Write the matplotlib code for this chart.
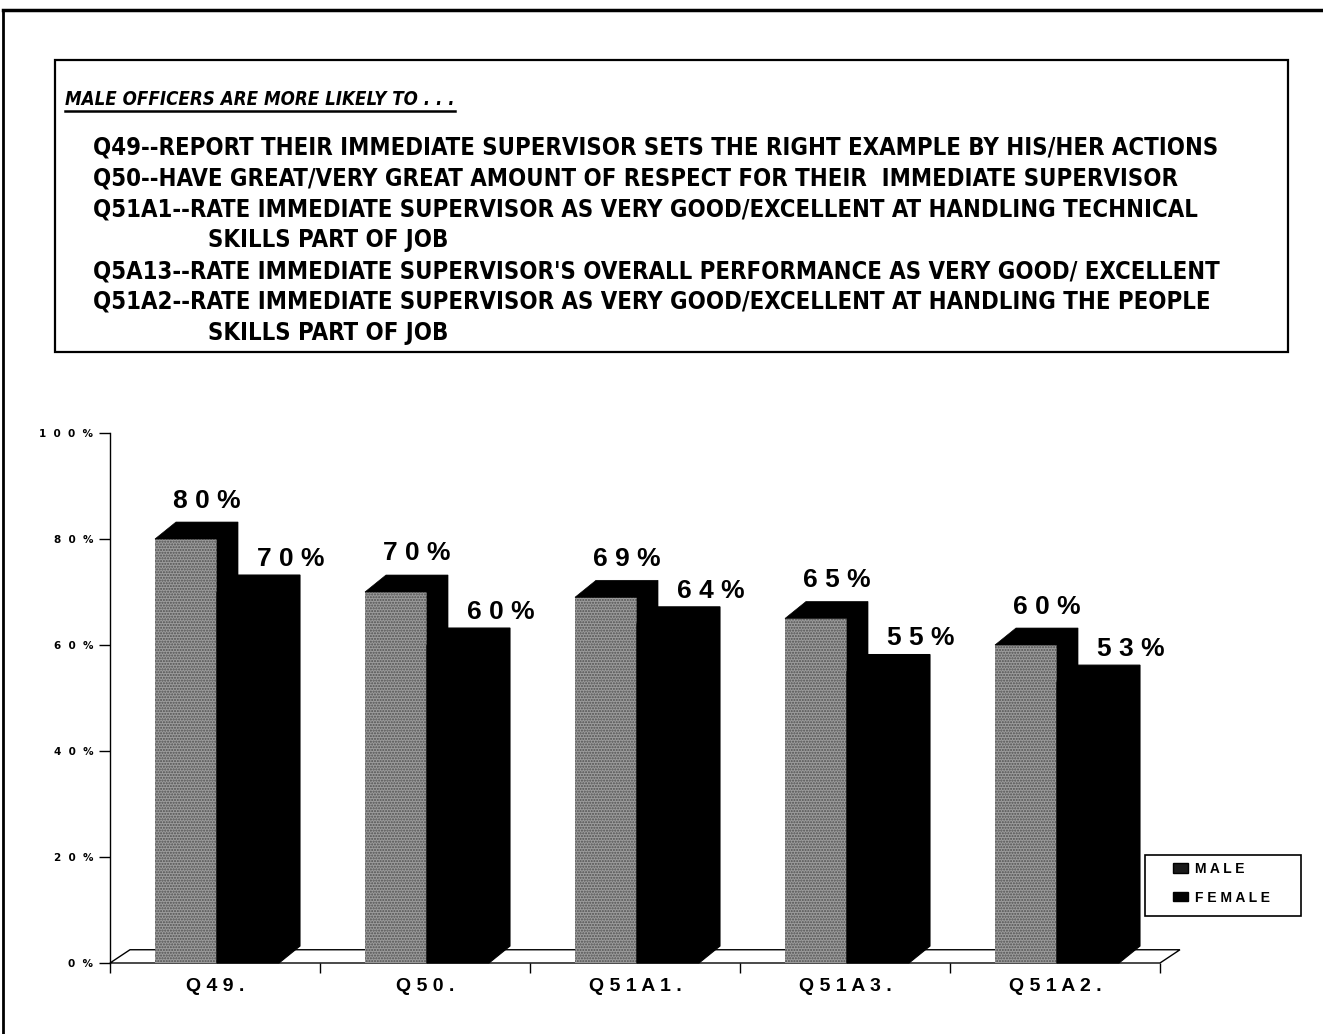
import numpy as np
import matplotlib
matplotlib.use('Agg')
import matplotlib.pyplot as plt
from matplotlib import font_manager as fm
from matplotlib.patches import Rectangle, Polygon, Patch
from matplotlib.lines import Line2D

# data
categories = ['Q49.', 'Q50.', 'Q51A1.', 'Q51A3.', 'Q51A2.']
male = [80, 70, 69, 65, 60]
female = [70, 60, 64, 55, 53]
series = ['MALE', 'FEMALE']
yticks = [0, 20, 40, 60, 80, 100]

title = 'MALE OFFICERS ARE MORE LIKELY TO . . .'
notes = [
    ('Q49--REPORT THEIR IMMEDIATE SUPERVISOR SETS THE RIGHT EXAMPLE BY HIS/HER ACTIONS', 0),
    ('Q50--HAVE GREAT/VERY GREAT AMOUNT OF RESPECT FOR THEIR  IMMEDIATE SUPERVISOR', 0),
    ('Q51A1--RATE IMMEDIATE SUPERVISOR AS VERY GOOD/EXCELLENT AT HANDLING TECHNICAL', 0),
    ('SKILLS PART OF JOB', 1),
    ("Q5A13--RATE IMMEDIATE SUPERVISOR'S OVERALL PERFORMANCE AS VERY GOOD/ EXCELLENT", 0),
    ('Q51A2--RATE IMMEDIATE SUPERVISOR AS VERY GOOD/EXCELLENT AT HANDLING THE PEOPLE', 0),
    ('SKILLS PART OF JOB', 1),
]

W, H = 1323, 1034


def fx(x):
    return x / W


def fy(y):
    return 1 - y / H


def spaced(s, gap=' '):
    return gap.join(s)


def narrow_font(style='normal'):
    # the scan uses a condensed bold face; take one if the machine has it
    tries = [('Liberation Sans Narrow', 'normal', 'Narrow'),
             ('DejaVu Sans', 'condensed', 'Condensed')]
    for fam, stretch, tag in tries:
        fp = fm.FontProperties(family=fam, stretch=stretch, weight='bold', style=style)
        try:
            path = fm.findfont(fp, fallback_to_default=False)
        except ValueError:
            continue
        if tag in path:
            return fm.FontProperties(fname=path)
    return fm.FontProperties(family='Liberation Sans', weight='bold', style=style)


arial = ['Liberation Sans', 'DejaVu Sans']

fig = plt.figure(figsize=(W / 100, H / 100), dpi=100)
fig.patch.set_facecolor('white')
renderer = fig.canvas.get_renderer()

# page frame (only top and left edges show in the scan)
fig.add_artist(Line2D([fx(3), fx(W)], [fy(10), fy(10)], color='black', lw=2.5))
fig.add_artist(Line2D([fx(3), fx(3)], [fy(10), fy(H)], color='black', lw=2))

# text box with the question list
fig.add_artist(Rectangle((fx(55), fy(352)), fx(1288) - fx(55), fy(60) - fy(352),
                         fill=False, ec='black', lw=1.6))

fp_title = narrow_font('italic')
fp_title.set_size(15)
t = fig.text(fx(65), fy(100), title, fontproperties=fp_title, va='center')
bb = t.get_window_extent(renderer)
t.set_fontsize(15 * 390 / bb.width)
bb = t.get_window_extent(renderer)
fig.add_artist(Line2D([bb.x0 / W, bb.x1 / W], [(bb.y0 - 2) / H, (bb.y0 - 2) / H],
                      color='black', lw=1.8))

fp_body = narrow_font()
fp_body.set_size(14)
body = []
for i, (line, indent) in enumerate(notes):
    x = 208 if indent else 93
    body.append(fig.text(fx(x), fy(148 + i * 30.8), line, fontproperties=fp_body,
                         va='center'))
bb = body[0].get_window_extent(renderer)
fs = 14 * 1129 / bb.width
for b in body:
    b.set_fontsize(fs)

# chart area: x from 110 to 1160 px, y 0% at 963 px, 100% at 433 px
ax = fig.add_axes([fx(110), fy(963), fx(1160) - fx(110), fy(433) - fy(963)])
ax.set_xlim(0, 5)
ax.set_ylim(0, 100)
ax.set_facecolor('none')
for side in ['top', 'right', 'bottom']:
    ax.spines[side].set_visible(False)
ax.spines['left'].set_linewidth(1)

ddx, ddy = 0.1, 3.2      # bar depth
fdx, fdy = 0.095, 2.5    # floor depth
bw = 62 / 210
x = np.arange(len(categories))
xm = x + 45 / 210
xf = xm + bw

# floor
ax.add_patch(Polygon([(0, 0), (5, 0), (5 + fdx, fdy), (fdx, fdy)], closed=True,
                     fc='white', ec='black', lw=1, clip_on=False, zorder=1))

ax.bar(xm, male, width=bw, align='edge', color='#9c9c9c', edgecolor='#505050',
       hatch='......', lw=0, zorder=2, label=series[0])
ax.bar(xf, female, width=bw, align='edge', color='black', edgecolor='black',
       lw=0.8, zorder=3, label=series[1])

for i in range(len(categories)):
    m, f = male[i], female[i]
    # male top and right side
    ax.add_patch(Polygon([(xm[i], m), (xm[i] + ddx, m + ddy), (xm[i] + bw + ddx, m + ddy),
                          (xm[i] + bw + ddx, ddy), (xm[i] + bw, 0), (xm[i] + bw, m)],
                         closed=True, fc='black', ec='black', lw=0.5,
                         clip_on=False, zorder=2))
    # female solid block: front, top and right side in one outline
    ax.add_patch(Polygon([(xf[i], 0), (xf[i], f), (xf[i] + ddx, f + ddy),
                          (xf[i] + bw + ddx, f + ddy), (xf[i] + bw + ddx, ddy),
                          (xf[i] + bw, 0)],
                         closed=True, fc='black', ec='black', lw=0.8, clip_on=False, zorder=3))
    ax.text(xm[i] + bw / 2 + ddx, m + 5.0, spaced(f'{m}%'), ha='center', va='bottom',
            fontsize=19, fontweight='bold', family=arial)
    ax.text(x[i] + 0.862, f + 4.0, spaced(f'{f}%'), ha='center', va='bottom',
            fontsize=19, fontweight='bold', family=arial)

ax.set_yticks(yticks)
ax.set_yticklabels([spaced(f'{v}%', '  ') for v in yticks], fontsize=7.5,
                   fontweight='bold', family='DejaVu Sans')
ax.tick_params(axis='y', direction='out', length=8, width=1, pad=4)

ax.set_xticks(range(len(categories) + 1))
ax.set_xticklabels([])
ax.tick_params(axis='x', which='major', direction='out', length=7, width=1)
ax.set_xticks(x + 0.5, [spaced(c) for c in categories], minor=True)
ax.tick_params(axis='x', which='minor', length=0, pad=11)
for lab in ax.get_xticklabels(minor=True):
    lab.set_fontsize(14)
    lab.set_fontweight('bold')
    lab.set_family(arial)

# legend entries, with the box drawn separately to match the scan's padding
handles = [Patch(fc='#1a1a1a', ec='black'), Patch(fc='black', ec='black')]
ax.legend(handles, [spaced(s) for s in series], loc='upper left',
          bbox_to_anchor=(fx(1173), fy(862)), bbox_transform=fig.transFigure,
          frameon=False, prop=dict(family=arial, weight='bold', size=10),
          handlelength=1.08, handleheight=0.65, handletextpad=0.5,
          borderpad=0, labelspacing=1.05, borderaxespad=0)
fig.add_artist(Rectangle((fx(1145), fy(916)), fx(1301) - fx(1145), fy(855) - fy(916),
                         fill=False, ec='black', lw=1.2))

fig.savefig('out.png', dpi=100)
